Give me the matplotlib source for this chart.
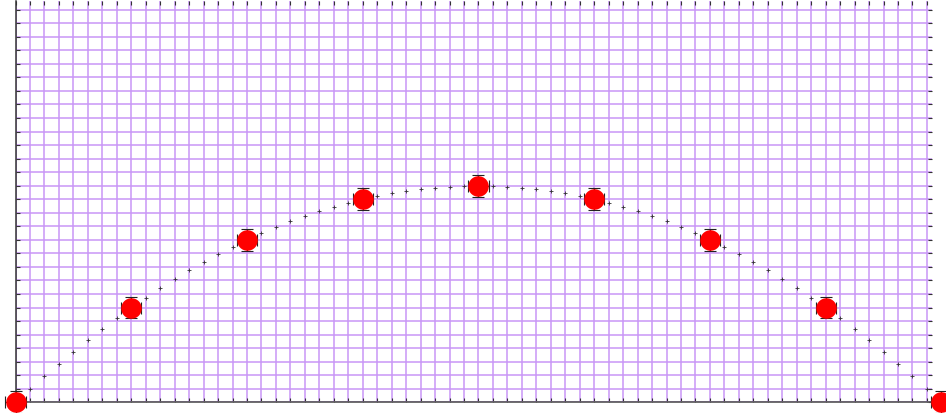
import numpy as np
import matplotlib
matplotlib.use("Agg")
import matplotlib.pyplot as plt
from matplotlib.ticker import MultipleLocator

# Data
x_vals = [0, 8, 16, 24, 32, 40, 48, 56, 64]
y_vals = [0, 7, 12, 15, 16, 15, 12, 7, 0]
x_err = [0.7] * 9
y_err = [0.8] * 9

fig = plt.figure(figsize=(9.46, 4.14), dpi=100)
ax = fig.add_axes([15.5 / 946, 10.7 / 414, (932 - 15.5) / 946, (403.3 - 2) / 414])

ax.set_xlim(0, 63.35)
ax.set_ylim(0, 29.64)
ax.xaxis.set_major_locator(MultipleLocator(1))
ax.yaxis.set_major_locator(MultipleLocator(1))
ax.grid(True, color="#c996f6", linewidth=1.1, zorder=0)
ax.set_axisbelow(True)

# quadratic trend through the measured points
coef = np.polyfit(x_vals, y_vals, 2)
xf = np.arange(1, 64)
ax.plot(xf, np.polyval(coef, xf), linestyle="none", marker="+", markersize=3.2,
        markeredgewidth=0.6, color="#333333", zorder=2, clip_on=False)

ax.errorbar(x_vals, y_vals, xerr=x_err, yerr=y_err, fmt="none", ecolor="#222222",
            elinewidth=0.7, capsize=4, capthick=0.8, zorder=3, clip_on=False)
ax.plot(x_vals, y_vals, linestyle="none", marker="o", markersize=14.8,
        color="#ff0000", markeredgewidth=0, zorder=4, clip_on=False)

for s in ["top", "right"]:
    ax.spines[s].set_visible(False)
ax.spines["left"].set_color("#333333")
ax.spines["left"].set_linewidth(1.1)
ax.spines["bottom"].set_color("#555555")
ax.spines["bottom"].set_linewidth(1.2)

ax.tick_params(axis="both", which="both", direction="in", length=3, width=0.8,
               color="#333333", top=True, right=True, labelbottom=False,
               labelleft=False, labeltop=False, labelright=False)

fig.savefig("out.png", dpi=100)
